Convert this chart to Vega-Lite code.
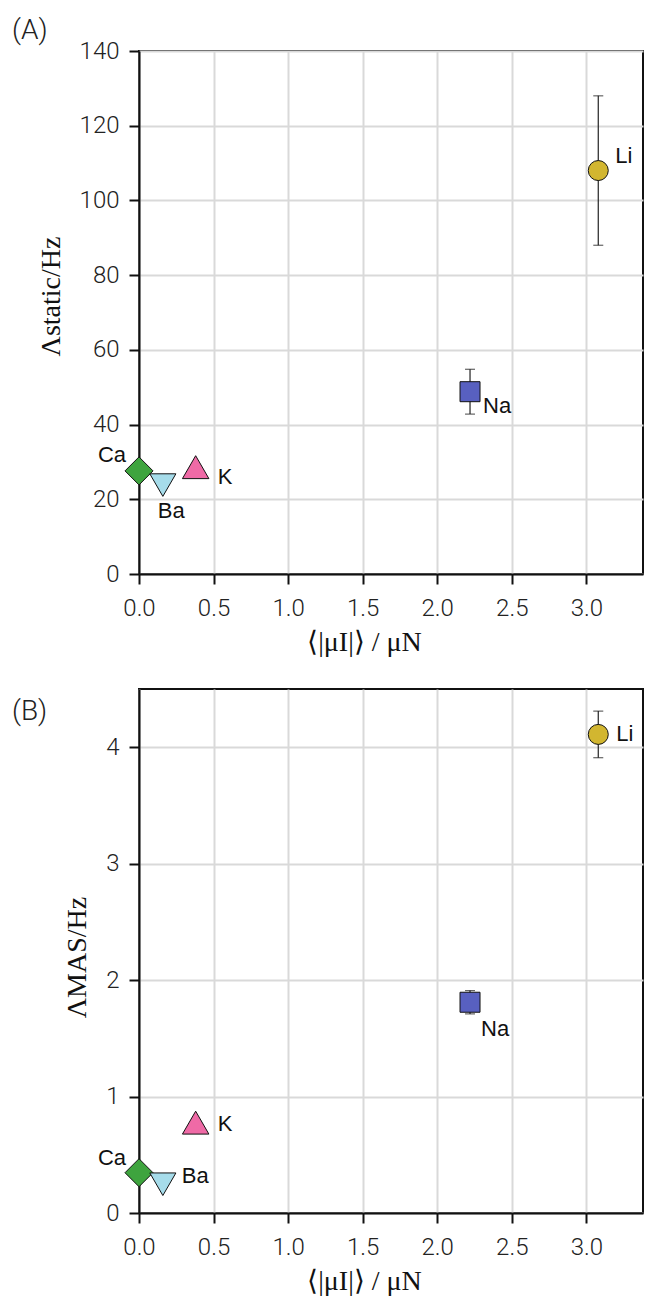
{
  "$schema": "https://vega.github.io/schema/vega-lite/v6.json",
  "background": "white",
  "padding": {"left": 11, "top": 16, "right": 0, "bottom": 0},
  "spacing": 31,
  "datasets": {
    "static": [
      {"ion": "Li", "mu": 3.08, "v": 108, "err": 20},
      {"ion": "Na", "mu": 2.22, "v": 48.8, "err": 6},
      {"ion": "Ca", "mu": 0.0, "v": 27.6, "err": 0},
      {"ion": "Ba", "mu": 0.16, "v": 23.8, "err": 0},
      {"ion": "K", "mu": 0.38, "v": 28.6, "err": 0}
    ],
    "mas": [
      {"ion": "Li", "mu": 3.08, "v": 4.11, "err": 0.2},
      {"ion": "Na", "mu": 2.22, "v": 1.81, "err": 0.1},
      {"ion": "Ca", "mu": 0.0, "v": 0.346, "err": 0},
      {"ion": "Ba", "mu": 0.16, "v": 0.247, "err": 0},
      {"ion": "K", "mu": 0.38, "v": 0.776, "err": 0}
    ]
  },
  "vconcat": [
    {
      "width": 504,
      "height": 523,
      "title": {"text": "(A)", "anchor": "start", "frame": "group", "dx": -127, "dy": 28, "offset": 0, "baseline": "alphabetic"},
      "data": {"name": "static"},
      "encoding": {
        "x": {"field": "mu", "type": "quantitative", "scale": {"domain": [0, 3.38], "nice": false, "zero": false}, "axis": {"values": [0, 0.5, 1, 1.5, 2, 2.5, 3], "format": ".1f", "title": "⟨|μI|⟩ / μN", "labelPadding": 12, "titlePadding": 8, "titleX": 225}},
        "y": {"field": "v", "type": "quantitative", "scale": {"domain": [0, 140], "nice": false}, "axis": {"values": [0, 20, 40, 60, 80, 100, 120, 140], "title": "Λstatic/Hz", "titleY": 245}}
      },
      "layer": [
        {"transform": [{"filter": "datum.err > 0"}], "mark": {"type": "errorbar", "color": "#222", "thickness": 1.2, "ticks": {"size": 10, "color": "#222", "thickness": 1.2}}, "encoding": {"yError": {"field": "err"}}},
        {"mark": {"type": "point", "filled": true, "opacity": 1, "stroke": "#111", "strokeWidth": 1},
         "encoding": {
           "shape": {"field": "ion", "type": "nominal", "legend": null, "scale": {"domain": ["Li", "Na", "Ca", "Ba", "K"], "range": ["circle", "square", "diamond", "triangle-down", "triangle-up"]}},
           "fill": {"field": "ion", "type": "nominal", "legend": null, "scale": {"domain": ["Li", "Na", "Ca", "Ba", "K"], "range": ["#d2b630", "#5860c0", "#3ea43e", "#a6dcea", "#ef6aa6"]}},
           "size": {"field": "ion", "type": "nominal", "legend": null, "scale": {"type": "ordinal", "domain": ["Li", "Na", "Ca", "Ba", "K"], "range": [400, 400, 784, 680, 700]}}
         }},
        {"transform": [{"filter": "datum.ion == 'Li'"}], "mark": {"type": "text", "align": "left", "baseline": "middle", "dx": 17, "dy": -15}, "encoding": {"text": {"field": "ion"}}},
        {"transform": [{"filter": "datum.ion == 'Na'"}], "mark": {"type": "text", "align": "left", "baseline": "middle", "dx": 13, "dy": 14}, "encoding": {"text": {"field": "ion"}}},
        {"transform": [{"filter": "datum.ion == 'Ca'"}], "mark": {"type": "text", "align": "right", "baseline": "middle", "dx": -13, "dy": -16}, "encoding": {"text": {"field": "ion"}}},
        {"transform": [{"filter": "datum.ion == 'Ba'"}], "mark": {"type": "text", "align": "left", "baseline": "middle", "dx": -5, "dy": 26}, "encoding": {"text": {"field": "ion"}}},
        {"transform": [{"filter": "datum.ion == 'K'"}], "mark": {"type": "text", "align": "left", "baseline": "middle", "dx": 22, "dy": 10}, "encoding": {"text": {"field": "ion"}}}
      ]
    },
    {
      "width": 504,
      "height": 524,
      "title": {"text": "(B)", "anchor": "start", "frame": "group", "dx": -127, "dy": 59, "offset": 0, "baseline": "alphabetic"},
      "data": {"name": "mas"},
      "encoding": {
        "x": {"field": "mu", "type": "quantitative", "scale": {"domain": [0, 3.38], "nice": false, "zero": false}, "axis": {"values": [0, 0.5, 1, 1.5, 2, 2.5, 3], "format": ".1f", "title": "⟨|μI|⟩ / μN", "labelPadding": 12, "titlePadding": 8, "titleX": 225}},
        "y": {"field": "v", "type": "quantitative", "scale": {"domain": [0, 4.5], "nice": false}, "axis": {"values": [0, 1, 2, 3, 4], "title": "ΛMAS/Hz", "titleY": 268}}
      },
      "layer": [
        {"transform": [{"filter": "datum.err > 0"}], "mark": {"type": "errorbar", "color": "#222", "thickness": 1.2, "ticks": {"size": 10, "color": "#222", "thickness": 1.2}}, "encoding": {"yError": {"field": "err"}}},
        {"mark": {"type": "point", "filled": true, "opacity": 1, "stroke": "#111", "strokeWidth": 1},
         "encoding": {
           "shape": {"field": "ion", "type": "nominal", "legend": null, "scale": {"domain": ["Li", "Na", "Ca", "Ba", "K"], "range": ["circle", "square", "diamond", "triangle-down", "triangle-up"]}},
           "fill": {"field": "ion", "type": "nominal", "legend": null, "scale": {"domain": ["Li", "Na", "Ca", "Ba", "K"], "range": ["#d2b630", "#5860c0", "#3ea43e", "#a6dcea", "#ef6aa6"]}},
           "size": {"field": "ion", "type": "nominal", "legend": null, "scale": {"type": "ordinal", "domain": ["Li", "Na", "Ca", "Ba", "K"], "range": [400, 400, 784, 680, 700]}}
         }},
        {"transform": [{"filter": "datum.ion == 'Li'"}], "mark": {"type": "text", "align": "left", "baseline": "middle", "dx": 18, "dy": 0}, "encoding": {"text": {"field": "ion"}}},
        {"transform": [{"filter": "datum.ion == 'Na'"}], "mark": {"type": "text", "align": "left", "baseline": "middle", "dx": 11, "dy": 27}, "encoding": {"text": {"field": "ion"}}},
        {"transform": [{"filter": "datum.ion == 'Ca'"}], "mark": {"type": "text", "align": "right", "baseline": "middle", "dx": -13, "dy": -15}, "encoding": {"text": {"field": "ion"}}},
        {"transform": [{"filter": "datum.ion == 'Ba'"}], "mark": {"type": "text", "align": "left", "baseline": "middle", "dx": 19, "dy": -8}, "encoding": {"text": {"field": "ion"}}},
        {"transform": [{"filter": "datum.ion == 'K'"}], "mark": {"type": "text", "align": "left", "baseline": "middle", "dx": 22, "dy": 1}, "encoding": {"text": {"field": "ion"}}}
      ]
    }
  ],
  "config": {
    "view": {"stroke": "#111", "strokeWidth": 2},
    "axis": {
      "labelFont": "Roboto", "labelFontWeight": 300, "labelFontSize": 24, "labelColor": "#222", "labelPadding": 10, "labelFlush": false,
      "tickSize": 10, "tickWidth": 2, "tickColor": "#111",
      "domainColor": "#111", "domainWidth": 2,
      "gridColor": "#d9d9d9", "gridWidth": 2,
      "titleFont": "Liberation Serif", "titleFontSize": 28, "titleFontWeight": "normal", "titleColor": "#111", "titlePadding": 14
    },
    "text": {"font": "Liberation Sans", "fontSize": 22, "color": "#111"},
    "title": {"font": "Roboto", "fontWeight": 300, "fontSize": 28, "color": "#222"}
  }
}
